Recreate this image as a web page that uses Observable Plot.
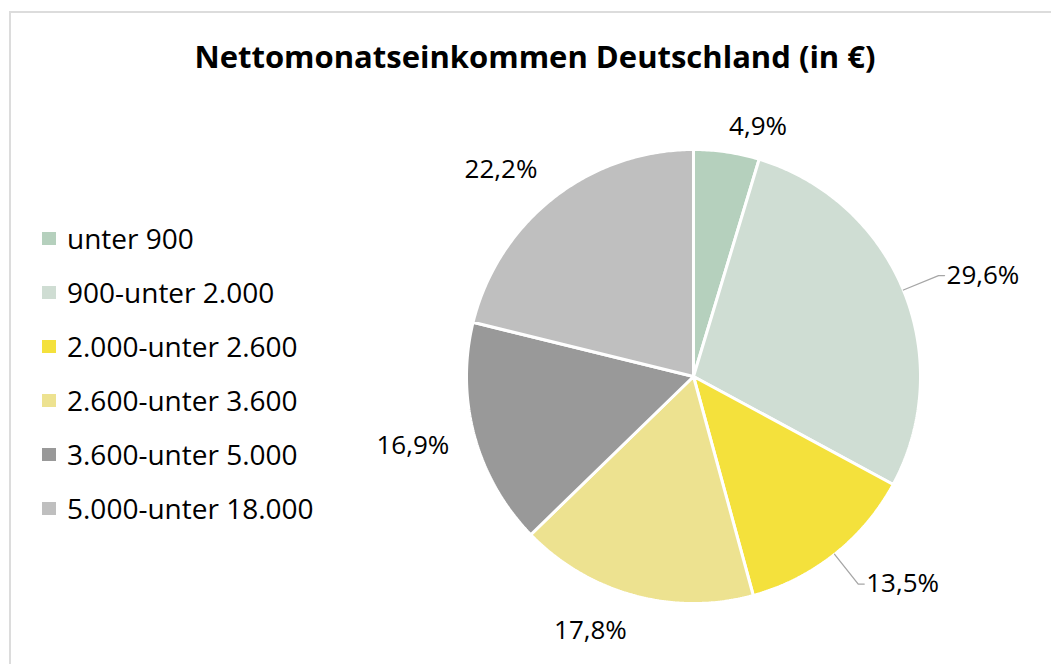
<!DOCTYPE html>
<html><head><meta charset="utf-8">
<script src="https://cdn.jsdelivr.net/npm/d3@7"></script>
<script src="https://cdn.jsdelivr.net/npm/@observablehq/plot@0.6"></script>
<style>
body{margin:0;background:#fff;font-family:"Open Sans",sans-serif;}
#wrap{position:relative;width:1051px;height:664px;overflow:hidden;background:#fff;}
#frame{position:absolute;left:9px;top:11px;width:1100px;height:700px;border-left:2px solid #dcdcdc;border-top:2px solid #dcdcdc;}
#title{position:absolute;left:0;width:1070px;top:36px;text-align:center;font-weight:700;font-size:31px;line-height:40px;color:#000;white-space:nowrap;}
.row{position:absolute;left:42px;height:40px;display:flex;align-items:center;white-space:nowrap;font-size:28px;color:#000;}
.sw{width:14px;height:13px;margin-right:11px;flex:none;}
#chart{position:absolute;left:0;top:0;}
</style></head>
<body>
<div id="wrap">
  <div id="frame"></div>
  <div id="chart"></div>
  <div id="title">Nettomonatseinkommen Deutschland (in €)</div>
  <div id="legend"></div>
</div>
<script>
// ---- data ----
const categories = ["unter 900", "900-unter 2.000", "2.000-unter 2.600", "2.600-unter 3.600", "3.600-unter 5.000", "5.000-unter 18.000"];
const shares = [4.9, 29.6, 13.5, 17.8, 16.9, 22.2];
const colors = ["#b5d0bd", "#cfddd3", "#f4e13c", "#ede290", "#999999", "#bfbfbf"];
const withLeader = [false, true, true, false, false, false];

// ---- layout ----
const W = 1051, H = 664;
const cx = 693, cy = 376, R = 227; // pie placement in pixels
const fmt = v => v.toFixed(1).replace(".", ",") + "%";

const arcs = d3.pie().sort(null).value(d => d)(shares);

// slice polygons (unit radius)
const slicePts = [];
arcs.forEach((a, i) => {
  slicePts.push({cat: categories[i], x: 0, y: 0});
  const n = Math.max(2, Math.ceil((a.endAngle - a.startAngle) / 0.01));
  for (let k = 0; k <= n; k++) {
    const t = a.startAngle + (a.endAngle - a.startAngle) * k / n;
    slicePts.push({cat: categories[i], x: Math.sin(t), y: Math.cos(t)});
  }
});

// labels
const px = p => p / R;
const labels = [], leaders = [];
arcs.forEach((a, i) => {
  const m = (a.startAngle + a.endAngle) / 2;
  const s = Math.sin(m), c = Math.cos(m);
  const side = s >= 0 ? 1 : -1;
  if (withLeader[i]) {
    const d = px(R + 38);
    const ex = s * d, ey = c * d;
    leaders.push({cat: categories[i], x: s, y: c});
    leaders.push({cat: categories[i], x: ex, y: ey});
    leaders.push({cat: categories[i], x: ex + side * px(6), y: ey});
    labels.push({text: fmt(shares[i]), side, x: ex + side * px(8), y: ey});
  } else {
    const d = px(R + (side > 0 ? 16 : 26));
    labels.push({text: fmt(shares[i]), side, x: s * d, y: c * d + px(10) * c});
  }
});

const chart = Plot.plot({
  width: W, height: H,
  margin: 0,
  x: {domain: [-cx / R, (W - cx) / R], range: [0, W], axis: null},
  y: {domain: [-(H - cy) / R, cy / R], range: [H, 0], axis: null},
  color: {domain: categories, range: colors},
  style: {fontFamily: "Open Sans", background: "transparent"},
  marks: [
    Plot.line(slicePts, {x: "x", y: "y", z: "cat", fill: "cat", stroke: "white", strokeWidth: 3, strokeLinejoin: "miter", curve: "linear-closed"}),
    Plot.line(leaders, {x: "x", y: "y", z: "cat", stroke: "#a6a6a6", strokeWidth: 1.3}),
    Plot.text(labels.filter(d => d.side > 0), {x: "x", y: "y", text: "text", textAnchor: "start", fontSize: 26, fill: "#000", fontFamily: "Open Sans"}),
    Plot.text(labels.filter(d => d.side < 0), {x: "x", y: "y", text: "text", textAnchor: "end", fontSize: 26, fill: "#000", fontFamily: "Open Sans"})
  ]
});
document.getElementById("chart").appendChild(chart);

// legend
const leg = document.getElementById("legend");
categories.forEach((c, i) => {
  const row = document.createElement("div");
  row.className = "row";
  row.style.top = (238 - 20 + i * 54) + "px";
  const sw = document.createElement("span");
  sw.className = "sw";
  sw.style.background = colors[i];
  const tx = document.createElement("span");
  tx.textContent = c;
  row.appendChild(sw); row.appendChild(tx);
  leg.appendChild(row);
});
</script>
</body></html>
